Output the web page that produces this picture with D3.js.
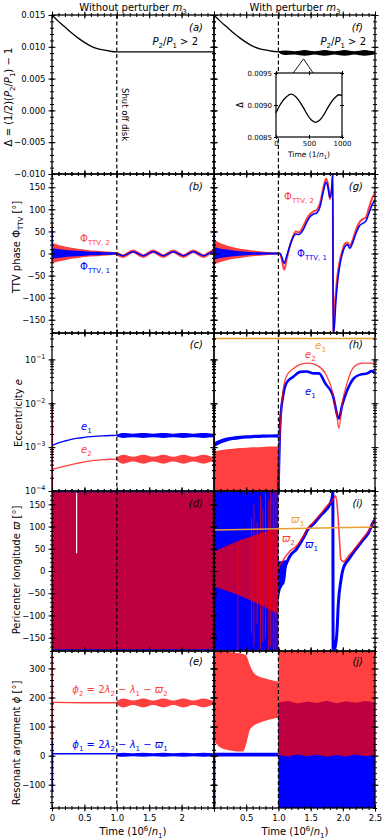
<!DOCTYPE html>
<html>
<head>
<meta charset="utf-8">
<script src="https://cdn.jsdelivr.net/npm/d3@7"></script>
<style>
  body { margin: 0; background: #fff; }
</style>
</head>
<body>
<script>
// ---------------- data ----------------
// time axis (units of 10^6 / n1)
var timeTicks = [0, 0.5, 1.0, 1.5, 2.0, 2.5];
var timeLabels = [["0", "0.5", "1.0", "1.5", "2", ""], ["", "0.5", "1.0", "1.5", "2.0", "2.5"]];
var shutOff = 1.0;

// y tick values per row
var deltaTicks = [-0.010, -0.005, 0, 0.005, 0.010, 0.015];
var phaseTicks = [-150, -100, -50, 0, 50, 100, 150];
var eccTicks = [1e-4, 1e-3, 1e-2, 1e-1];
var lonTicks = [-150, -100, -50, 0, 50, 100, 150];
var argTicks = [-100, 0, 100, 200, 300];

// (a),(f) Delta = (1/2)(P2/P1) - 1
var deltaT = [0, 0.1, 0.2, 0.3, 0.4, 0.5, 0.6, 0.7, 0.8, 0.9, 1.0, 2.5];
var deltaV = [0.0150, 0.0140, 0.0131, 0.0122, 0.0114, 0.0107, 0.0101, 0.0097, 0.0095, 0.0093, 0.0092, 0.0092];
// slow beat after disk shut off (shared time samples)
var slowT = [1.0, 1.1, 1.25, 1.41, 1.56, 1.72, 1.87, 2.03, 2.18, 2.34, 2.49, 2.5];
var deltaBandLo = [0.0091, 0.0087, 0.0088, 0.0086, 0.0088, 0.0086, 0.0088, 0.0086, 0.0088, 0.0086, 0.0088, 0.0088];
var deltaBandHi = [0.0093, 0.0094, 0.0093, 0.0095, 0.0093, 0.0095, 0.0093, 0.0095, 0.0093, 0.0095, 0.0093, 0.0093];
// inset: Delta over 1000/n1
var insetT = [0, 50, 100, 150, 230, 300, 360, 420, 480, 540, 600, 660, 720, 780, 840, 900, 950, 1000];
var insetV = [0.00888, 0.00898, 0.00906, 0.00912, 0.00917, 0.00913, 0.00905, 0.00895, 0.00884, 0.00876,
  0.00873, 0.00876, 0.00884, 0.00895, 0.00905, 0.00912, 0.00916, 0.00915];
var insetXTicks = [0, 500, 1000];
var insetYTicks = [0.0085, 0.0090, 0.0095];
var insetWin = [1.23, 1.39, 1.54];
var insetApex = 0.0081;

// (b),(g) TTV phase: envelope of fast oscillation while disk is on
var envT = [0.005, 0.05, 0.1, 0.2, 0.3, 0.4, 0.5, 0.6, 0.7, 0.8, 0.9, 1.0];
var ttv2HiL = [24, 22, 19, 16, 13, 11, 9, 7, 6, 5, 4, 3];
var ttv2LoL = [-22, -20, -18, -15, -12, -10, -8, -7, -6, -5, -4, -3];
var ttv1HiL = [12, 11, 10, 8, 7, 6, 5, 4, 4, 3, 3, 2];
var ttv1LoL = [-12, -11, -10, -8, -7, -6, -5, -4, -4, -3, -3, -2];
var ttv2HiR = [30, 27, 23, 18, 14, 11, 9, 7, 5, 4, 3, 3];
var ttv2LoR = [-24, -22, -19, -15, -12, -10, -8, -6, -5, -4, -3, -3];
var ttv1HiR = [15, 13, 11, 9, 7, 5, 4, 3, 3, 2, 2, 2];
var ttv1LoR = [-14, -12, -10, -8, -6, -5, -4, -3, -3, -2, -2, -2];
var ttvSpike2L = [-22, 72], ttvSpike1L = [-15, 55];
var ttvSpike2R = [-27, 70], ttvSpike1R = [-15, 50];
var ttv2SlowL = [0, -6, 5, -6, 5, -6, 5, -6, 5, -6, 5, 5];
var ttv1SlowL = [0, -5, 4, -5, 4, -5, 4, -5, 4, -5, 4, 4];
// (g) after shut off
var ttvT = [1.0, 1.025, 1.05, 1.09, 1.13, 1.18, 1.23, 1.27, 1.32, 1.39, 1.44, 1.49, 1.54, 1.59, 1.65, 1.70, 1.74, 1.77, 1.80,
  1.83, 1.845, 1.85, 1.86, 1.89, 1.92, 1.96, 2.0, 2.03, 2.07, 2.11, 2.15, 2.20, 2.26, 2.31, 2.36, 2.41, 2.46, 2.52];
var ttv2R = [0, 0, -12, -37, -12, 18, 40, 50, 48, 63, 78, 89, 95, 98, 116, 150, 169, 157, 123, 150,
  180, -180, -145, -92, -46, -12, 10, 22, 25, 18, 29, 52, 71, 78, 82, 105, 127, 138];
var ttv1R = [0, 0, -7, -22, -5, 18, 37, 44, 43, 55, 71, 83, 89, 91, 108, 142, 161, 150, 127, 150,
  180, -180, -180, -114, -62, -22, 3, 15, 20, 12, 23, 44, 63, 68, 74, 93, 112, 123];

// (c),(h) eccentricities
var eT = [0.005, 0.1, 0.2, 0.3, 0.4, 0.5, 0.6, 0.7, 0.8, 0.9, 1.0];
var e1L = [1.1e-3, 1.25e-3, 1.38e-3, 1.5e-3, 1.6e-3, 1.67e-3, 1.73e-3, 1.78e-3, 1.81e-3, 1.84e-3, 1.86e-3];
var e2L = [3.1e-4, 3.4e-4, 3.7e-4, 4.0e-4, 4.3e-4, 4.6e-4, 4.85e-4, 5.05e-4, 5.2e-4, 5.3e-4, 5.35e-4];
var e1BandLo = [1.75e-3, 1.62e-3, 1.68e-3, 1.62e-3, 1.68e-3, 1.62e-3, 1.68e-3, 1.62e-3, 1.68e-3, 1.62e-3, 1.68e-3, 1.68e-3];
var e1BandHi = [1.95e-3, 2.1e-3, 2.02e-3, 2.1e-3, 2.02e-3, 2.1e-3, 2.02e-3, 2.1e-3, 2.02e-3, 2.1e-3, 2.02e-3, 2.02e-3];
var e2BandLo = [4.9e-4, 4.2e-4, 4.7e-4, 4.2e-4, 4.7e-4, 4.2e-4, 4.7e-4, 4.2e-4, 4.7e-4, 4.2e-4, 4.7e-4, 4.7e-4];
var e2BandHi = [5.8e-4, 6.7e-4, 6.0e-4, 6.7e-4, 6.0e-4, 6.7e-4, 6.0e-4, 6.7e-4, 6.0e-4, 6.7e-4, 6.0e-4, 6.0e-4];
var eSpike = [1e-4, 1.05e-2];
var e1BandLoR = [1.0e-3, 1.2e-3, 1.35e-3, 1.45e-3, 1.52e-3, 1.57e-3, 1.6e-3, 1.62e-3, 1.64e-3, 1.65e-3, 1.66e-3];
var e1BandHiR = [1.3e-3, 1.5e-3, 1.65e-3, 1.75e-3, 1.82e-3, 1.87e-3, 1.9e-3, 1.92e-3, 1.94e-3, 1.95e-3, 1.96e-3];
var e2LoR = [1e-4, 1e-4, 1e-4, 1e-4, 1e-4, 1e-4, 1e-4, 1e-4, 1e-4, 1e-4, 1e-4];
var e2HiR = [8.0e-4, 8.5e-4, 8.9e-4, 9.2e-4, 9.5e-4, 9.7e-4, 9.9e-4, 1.0e-3, 1.02e-3, 1.03e-3, 1.04e-3];
var e1RT = [1.0, 1.03, 1.07, 1.13, 1.23, 1.34, 1.44, 1.55, 1.63, 1.73, 1.84, 1.94, 1.99, 2.07, 2.17, 2.27, 2.38, 2.45, 2.5];
var e1R = [1e-4, 4e-3, 0.014, 0.030, 0.040, 0.052, 0.053, 0.048, 0.048, 0.028, 0.016, 0.0045, 0.009, 0.020, 0.037, 0.045, 0.048, 0.054, 0.049];
var e2RT = [1.0, 1.02, 1.035, 1.08, 1.13, 1.23, 1.34, 1.47, 1.6, 1.73, 1.84, 1.91, 1.94, 1.99, 2.07, 2.17, 2.3, 2.43, 2.5];
var e2R = [1e-4, 1.5e-3, 4e-3, 0.023, 0.043, 0.061, 0.077, 0.082, 0.073, 0.048, 0.018, 0.0049, 0.0027, 0.010, 0.030, 0.067, 0.082, 0.082, 0.077];
var e3T = [0, 2.5];
var e3V = [0.30, 0.30];

// (d),(i) pericenter longitudes
var lonT = [0, 2.5];
var lonT1 = [0, 1.0];
var lonBlueLo = [-179, -179], lonBlueHi = [179, 179];
var lonRedLo = [-176, -176], lonRedHi = [177, 177];
var lonGapT = 0.38, lonGap = [40, 176];
var omRT = [0, 0.1, 0.2, 0.3, 0.4, 0.5, 0.6, 0.7, 0.8, 0.9, 1.0];
var omRHi = [43, 50, 57, 63, 69, 74, 79, 84, 88, 92, 95];
var omRLo = [-35, -40, -45, -50, -55, -62, -68, -75, -82, -90, -97];
var omSpikeT = [0.37, 0.58, 0.62, 0.67, 0.72, 0.76, 0.8, 0.85, 0.88, 0.92, 0.95, 0.98];
var omSpikeHi = [60, 120, 150, 110, 170, 140, 180, 160, 180, 175, 180, 180];
var omSpikeLo = [-180, -140, -170, -120, -180, -160, -150, -180, -170, -180, -175, -180];
var om1EarlyT = [1.0, 1.03, 1.06, 1.1, 1.13];
var om1EarlyLo = [-70, -45, -35, -25, 12];
var om1EarlyHi = [25, 22, 22, 24, 25];
var om1T = [1.0, 1.025, 1.08, 1.13, 1.18, 1.28, 1.39, 1.46, 1.54, 1.65, 1.75, 1.80, 1.84, 1.845, 1.85,
  1.88, 1.91, 1.93, 1.97, 2.01, 2.09, 2.16, 2.24, 2.32, 2.40, 2.47, 2.525];
var om1V = [-20, -10, 0, 19, 34, 49, 75, 94, 105, 124, 139, 150, 170, 180, -180,
  -172, -135, -75, -22, 7, 26, 41, 56, 71, 86, 109, 120];
var om2T = [1.0, 1.025, 1.05, 1.10, 1.18, 1.28, 1.39, 1.46, 1.54, 1.65, 1.75, 1.85, 1.89, 1.92, 1.95, 1.97,
  2.01, 2.09, 2.16, 2.24, 2.32, 2.40, 2.47, 2.525];
var om2V = [5, 15, 19, 30, 45, 56, 79, 97, 109, 127, 146, 161, 169, 135, 67, 26, 21, 34, 45, 60, 75, 90, 109, 120];
var om3V = [92, 99];

// (e),(j) resonant arguments
var phiT = [0.005, 0.5, 1.0];
var phi2L = [183, 182, 182];
var phi1L = [7, 7, 7];
var phi2BandLo = [176, 166, 174, 166, 174, 166, 174, 166, 174, 166, 174, 174];
var phi2BandHi = [188, 197, 190, 197, 190, 197, 190, 197, 190, 197, 190, 190];
var phi1BandLo = [-2, -4, -2, -4, -2, -4, -2, -4, -2, -4, -2, -2];
var phi1BandHi = [8, 10, 8, 10, 8, 10, 8, 10, 8, 10, 8, 8];
var phiSpike2L = [-104, 345], phiSpike1L = [-125, 50];
var phiJT = [0, 0.1, 0.2, 0.3, 0.4, 0.45, 0.5, 0.55, 0.6, 0.7, 0.8, 0.9, 1.0];
var phi2JHi = [360, 360, 358, 355, 352, 350, 345, 315, 290, 272, 265, 259, 255];
var phi2JLo = [50, 28, 20, 16, 14, 14, 40, 85, 100, 112, 120, 126, 130];
var phi1JLo = [-3, -3, -3], phi1JHi = [10, 10, 10];
var phiSpike1R = [-180, 5], phiSpike2R = [40, 360];
var lateT = [1.0, 1.15, 1.3, 1.45, 1.6, 1.75, 1.9, 2.05, 2.2, 2.35, 2.5];
var phi1LateLo = [-180, -180, -180, -180, -180, -180, -180, -180, -180, -180, -180];
var phi1LateHi = [183, 188, 179, 186, 181, 189, 180, 187, 182, 188, 183];
var phi2LateLo = [2, -3, 4, -2, 3, -4, 2, -3, 4, -2, 2];
var phi2LateHi = [360, 360, 360, 360, 360, 360, 360, 360, 360, 360, 360];

// ---------------- layout ----------------
var RED = "#ff0000", BLUE = "#0000ff", ORANGE = "#e8a035", A = 0.75;
var RED_TXT = "#ff4040";
var colRange = [[52, 214], [214, 375]];
var rowRange = [[15, 174], [174, 333], [333, 491], [491, 651], [651, 808]];

var svg = d3.select("body").append("svg")
  .attr("width", 387).attr("height", 840)
  .attr("font-family", "DejaVu Sans, sans-serif");

var xs = colRange.map(function (r) { return d3.scaleLinear().domain([0, 2.5]).range(r); });
var ys = [
  d3.scaleLinear().domain([-0.01, 0.015]).range([174, 15]),
  d3.scaleLinear().domain([-180, 180]).range([333, 174]),
  d3.scaleLog().domain([1e-4, 0.4]).range([491, 333]),
  d3.scaleLinear().domain([-180, 180]).range([651, 491]),
  d3.scaleLinear().domain([-180, 360]).range([808, 651])
];
var yMajor = [deltaTicks, phaseTicks, eccTicks, lonTicks, argTicks];
var yMinor = [ys[0].ticks(25), ys[1].ticks(36), ys[2].ticks(), ys[3].ticks(36), ys[4].ticks(27)];
var yFormat = [d3.format(".3f"), d3.format("d"), function () { return "10"; }, d3.format("d"), d3.format("d")];

function panel(r, c) {
  var id = "clip" + r + c;
  svg.append("clipPath").attr("id", id).append("rect")
    .attr("x", colRange[c][0]).attr("y", rowRange[r][0])
    .attr("width", colRange[c][1] - colRange[c][0])
    .attr("height", rowRange[r][1] - rowRange[r][0]);
  return { g: svg.append("g").attr("clip-path", "url(#" + id + ")"), x: xs[c], y: ys[r], r: r };
}

function idx(T) { return d3.range(T.length); }

function band(p, T, lo, hi, color, opacity, smooth) {
  p.g.append("path").datum(idx(T))
    .attr("d", d3.area()
      .x(function (i) { return p.x(T[i]); })
      .y0(function (i) { return p.y(lo[i]); })
      .y1(function (i) { return p.y(hi[i]); })
      .curve(smooth ? d3.curveMonotoneX : d3.curveLinear))
    .attr("fill", color).attr("fill-opacity", opacity);
}

function curve(p, T, V, color, width, opacity, smooth) {
  p.g.append("path").datum(idx(T))
    .attr("d", d3.line()
      .x(function (i) { return p.x(T[i]); })
      .y(function (i) { return p.y(V[i]); })
      .curve(smooth ? d3.curveMonotoneX : d3.curveLinear))
    .attr("fill", "none").attr("stroke", color).attr("stroke-width", width)
    .attr("stroke-opacity", opacity).attr("stroke-linejoin", "round");
}

function spike(p, t, range, color, width, opacity) {
  curve(p, [t, t], range, color, width, opacity, false);
}

// ---------------- panels ----------------
var pa = panel(0, 0);
curve(pa, deltaT, deltaV, "#000", 1.3, 1, true);

var pf = panel(0, 1);
curve(pf, deltaT.slice(0, 11), deltaV.slice(0, 11), "#000", 1.3, 1, true);
band(pf, slowT, deltaBandLo, deltaBandHi, "#000", 1, true);

var pb = panel(1, 0);
band(pb, envT, ttv2LoL, ttv2HiL, RED, A);
spike(pb, 0.006, ttvSpike2L, RED, 1.3, A);
band(pb, envT, ttv1LoL, ttv1HiL, BLUE, 1);
spike(pb, 0.006, ttvSpike1L, BLUE, 1.3, 1);
curve(pb, slowT, ttv2SlowL, RED, 3.5, A, true);
curve(pb, slowT, ttv1SlowL, BLUE, 1.5, 1, true);

var pg = panel(1, 1);
band(pg, envT, ttv2LoR, ttv2HiR, RED, A);
spike(pg, 0.006, ttvSpike2R, RED, 1.3, A);
band(pg, envT, ttv1LoR, ttv1HiR, BLUE, 1);
spike(pg, 0.006, ttvSpike1R, BLUE, 1.3, 1);
curve(pg, ttvT, ttv2R, RED, 2, A, true);
curve(pg, ttvT, ttv1R, BLUE, 1.6, 1, true);

var pc = panel(2, 0);
spike(pc, 0.006, eSpike, BLUE, 1.3, 1);
spike(pc, 0.006, eSpike, RED, 1.3, A);
curve(pc, eT, e1L, BLUE, 1.3, 1, true);
band(pc, slowT, e1BandLo, e1BandHi, BLUE, 1, true);
curve(pc, eT, e2L, RED, 1.3, A, true);
band(pc, slowT, e2BandLo, e2BandHi, RED, A, true);

var ph = panel(2, 1);
band(ph, eT, e1BandLoR, e1BandHiR, BLUE, 1, true);
band(ph, eT, e2LoR, e2HiR, RED, A, true);
spike(ph, 0.006, eSpike, BLUE, 1.3, 1);
spike(ph, 0.006, eSpike, RED, 1.3, A);
curve(ph, e1RT, e1R, BLUE, 2.6, 1, true);
curve(ph, e2RT, e2R, RED, 1.3, A, true);
curve(ph, e3T, e3V, ORANGE, 1.5, 1, false);

var pd = panel(3, 0);
band(pd, lonT, lonBlueLo, lonBlueHi, BLUE, 1);
band(pd, lonT, lonRedLo, lonRedHi, RED, A);
spike(pd, lonGapT, lonGap, "#fff", 1.2, 1);

var pi = panel(3, 1);
band(pi, lonT1, lonBlueLo, lonBlueHi, BLUE, 1);
band(pi, omRT, omRLo, omRHi, RED, A, true);
omSpikeT.forEach(function (t, i) {
  spike(pi, t, [omSpikeLo[i], omSpikeHi[i]], RED, 1, A);
});
band(pi, om1EarlyT, om1EarlyLo, om1EarlyHi, BLUE, 1, true);
curve(pi, om1T, om1V, BLUE, 3, 1, true);
curve(pi, om2T, om2V, RED, 1.6, A, true);
curve(pi, e3T, om3V, ORANGE, 1.5, 1, false);

var pe = panel(4, 0);
spike(pe, 0.006, phiSpike2L, RED, 1.5, A);
spike(pe, 0.006, phiSpike1L, BLUE, 1.5, 1);
curve(pe, phiT, phi2L, RED, 1.3, A, false);
band(pe, slowT, phi2BandLo, phi2BandHi, RED, A, true);
curve(pe, phiT, phi1L, BLUE, 1.5, 1, false);
band(pe, slowT, phi1BandLo, phi1BandHi, BLUE, 1, true);

var pj = panel(4, 1);
band(pj, phiJT, phi2JLo, phi2JHi, RED, A, true);
band(pj, phiT, phi1JLo, phi1JHi, BLUE, 1);
spike(pj, 0.006, phiSpike2R, RED, 1.5, A);
spike(pj, 0.006, phiSpike1R, BLUE, 2, 1);
band(pj, lateT, phi1LateLo, phi1LateHi, BLUE, 1);
band(pj, lateT, phi2LateLo, phi2LateHi, RED, A);

// dashed "shut off disk" line in every panel
[pa, pf, pb, pg, pc, ph, pd, pi, pe, pj].forEach(function (p) {
  p.g.append("line")
    .attr("x1", p.x(shutOff)).attr("x2", p.x(shutOff))
    .attr("y1", rowRange[p.r][0]).attr("y2", rowRange[p.r][1])
    .attr("stroke", "#000").attr("stroke-width", 1.2).attr("stroke-dasharray", "4,2.5");
});

// ---------------- frames and ticks ----------------
function sideTicks(axisGen, tx, ty, values, len, fmt, dim, fs, pad) {
  var a = svg.append("g").attr("transform", "translate(" + tx + "," + ty + ")")
    .call(axisGen.tickValues(values).tickSize(len / 2).tickPadding(pad == null ? 3 : pad)
      .tickFormat(fmt || function () { return ""; }));
  a.select(".domain").remove();
  a.attr("font-family", null).attr("font-size", fs || 8.5);
  a.selectAll(".tick line")
    .attr(dim + "1", function () { return -d3.select(this).attr(dim + "2"); })
    .attr("stroke-width", 1);
  return a;
}

for (var r = 0; r < 5; r++) {
  for (var c = 0; c < 2; c++) {
    var x = xs[c], y = ys[r];
    var x0 = colRange[c][0], x1 = colRange[c][1], y0 = rowRange[r][0], y1 = rowRange[r][1];
    svg.append("rect").attr("x", x0).attr("y", y0).attr("width", x1 - x0).attr("height", y1 - y0)
      .attr("fill", "none").attr("stroke", "#000").attr("stroke-width", 1.3);
    var xMinor = x.ticks(25);
    // minor
    sideTicks(d3.axisLeft(y), x0, 0, yMinor[r], 4, null, "x");
    sideTicks(d3.axisRight(y), x1, 0, yMinor[r], 4, null, "x");
    sideTicks(d3.axisTop(x), 0, y0, xMinor, 4, null, "y");
    sideTicks(d3.axisBottom(x), 0, y1, xMinor, 4, null, "y");
    // major
    var left = sideTicks(d3.axisLeft(y), x0, 0, yMajor[r], 7, c === 0 ? yFormat[r] : null, "x");
    if (c === 0 && r === 2) {
      left.selectAll(".tick text").each(function (d) {
        d3.select(this).append("tspan").attr("dy", -4).attr("font-size", 6.5)
          .text(d3.format("d")(Math.round(Math.log10(d))));
      });
    }
    sideTicks(d3.axisRight(y), x1, 0, yMajor[r], 7, null, "x");
    sideTicks(d3.axisTop(x), 0, y0, timeTicks, 7, null, "y");
    var labs = timeLabels[c];
    sideTicks(d3.axisBottom(x), 0, y1, timeTicks, 7,
      r === 4 ? function (d, i) { return labs[i]; } : null, "y", 8.5, 3.5);
  }
}

// ---------------- inset in (f) ----------------
var xi = d3.scaleLinear().domain([0, 1000]).range([276, 342]);
var yi = d3.scaleLinear().domain([0.0085, 0.0095]).range([137, 73]);
svg.append("path")
  .attr("d", d3.line()([[xs[1](insetWin[0]), yi.range()[1]], [xs[1](insetWin[1]), ys[0](insetApex)],
    [xs[1](insetWin[2]), yi.range()[1]]]))
  .attr("fill", "none").attr("stroke", "#000").attr("stroke-width", 0.9);
svg.append("rect").attr("x", 276).attr("y", 73).attr("width", 66).attr("height", 64)
  .attr("fill", "#fff").attr("stroke", "#000").attr("stroke-width", 1.2);
var pInset = { g: svg.append("g"), x: xi, y: yi };
curve(pInset, insetT, insetV, "#000", 1.3, 1, true);
sideTicks(d3.axisLeft(yi), 276, 0, insetYTicks, 4, d3.format(".4f"), "x", 7, 2);
sideTicks(d3.axisRight(yi), 342, 0, insetYTicks, 4, null, "x", 7);
sideTicks(d3.axisTop(xi), 0, 73, insetXTicks, 4, null, "y", 7);
sideTicks(d3.axisBottom(xi), 0, 137, insetXTicks, 4, d3.format("d"), "y", 7, 2.5);

// ---------------- text ----------------
function label(x, y, parts, o) {
  o = o || {};
  var fs = o.size || 10;
  var t = svg.append("text").attr("x", x).attr("y", y).attr("font-size", fs)
    .attr("fill", o.color || "#000").attr("text-anchor", o.anchor || "start");
  if (o.rotate) t.attr("transform", "rotate(" + o.rotate + "," + x + "," + y + ")");
  if (o.italic) t.attr("font-style", "italic");
  var base = 0;
  parts.forEach(function (p) {
    var kind = p[1] || "";
    var off = kind === "sub" ? fs * 0.28 : kind === "sup" ? -fs * 0.4 : 0;
    var s = t.append("tspan").attr("dy", off - base).text(p[0]);
    if (kind === "sub" || kind === "sup") s.attr("font-size", fs * 0.7);
    if (kind === "i") s.attr("font-style", "italic");
    base = off;
  });
  return t;
}

label(133, 11, [["Without perturber "], ["m", "i"], ["3", "sub"]], { anchor: "middle" });
label(295, 11, [["With perturber "], ["m", "i"], ["3", "sub"]], { anchor: "middle" });

label(12, 97, [["Δ = (1/2)("], ["P", "i"], ["2", "sub"], ["/"], ["P", "i"], ["1", "sub"], [") − 1"]],
  { anchor: "middle", rotate: -90 });
label(20, 247, [["TTV phase Φ"], ["TTV", "sub"], [" [°]"]], { anchor: "middle", rotate: -90 });
label(22, 413, [["Eccentricity "], ["e", "i"]], { anchor: "middle", rotate: -90 });
label(20, 570, [["Pericenter longitude "], ["ϖ", "i"], [" [°]"]], { anchor: "middle", rotate: -90 });
label(20, 743, [["Resonant argument "], ["ϕ", "i"], [" [°]"]], { anchor: "middle", rotate: -90 });

[133, 295].forEach(function (cx) {
  label(cx, 835, [["Time (10"], ["6", "sup"], ["/"], ["n", "i"], ["1", "sub"], [")"]], { anchor: "middle" });
});

var panelTags = [["(a)", 203, 31], ["(f)", 363, 31], ["(b)", 203, 190], ["(g)", 363, 190],
  ["(c)", 203, 348], ["(h)", 363, 348], ["(d)", 203, 507], ["(i)", 363, 507],
  ["(e)", 203, 665], ["(j)", 363, 665]];
panelTags.forEach(function (d) {
  label(d[1], d[2], [[d[0]]], { anchor: "end", italic: true });
});

var ratioText = [["P", "i"], ["2", "sub"], ["/"], ["P", "i"], ["1", "sub"], [" > 2"]];
label(198, 45, ratioText, { anchor: "end" });
label(366, 45, ratioText, { anchor: "end" });
label(122, 88, [["Shut off disk"]], { rotate: 90, size: 8.5 });

// inset labels
label(309, 157, [["Time (1/"], ["n", "i"], ["1", "sub"], [")"]], { anchor: "middle", size: 7.5 });
label(243, 105, [["Δ"]], { anchor: "middle", rotate: -90, size: 8 });

// curve labels
label(80, 242, [["Φ"], ["TTV, 2", "sub"]], { color: RED_TXT });
label(80, 270, [["Φ"], ["TTV, 1", "sub"]], { color: BLUE });
label(284, 200, [["Φ"], ["TTV, 2", "sub"]], { color: RED_TXT });
label(297, 257, [["Φ"], ["TTV, 1", "sub"]], { color: BLUE });

label(81, 430, [["e", "i"], ["1", "sub"]], { color: BLUE });
label(81, 453, [["e", "i"], ["2", "sub"]], { color: RED_TXT });
label(315, 349, [["e", "i"], ["3", "sub"]], { color: ORANGE });
label(305, 358, [["e", "i"], ["2", "sub"]], { color: RED_TXT });
label(305, 395, [["e", "i"], ["1", "sub"]], { color: BLUE });

label(291, 523, [["ϖ", "i"], ["3", "sub"]], { color: ORANGE });
label(282, 542, [["ϖ", "i"], ["2", "sub"]], { color: RED_TXT });
label(305, 548, [["ϖ", "i"], ["1", "sub"]], { color: BLUE });

label(120, 693, [["ϕ", "i"], ["2", "sub"], [" = 2"], ["λ", "i"], ["2", "sub"], [" − "], ["λ", "i"], ["1", "sub"],
  [" − "], ["ϖ", "i"], ["2", "sub"]], { anchor: "middle", color: RED_TXT });
label(120, 748, [["ϕ", "i"], ["1", "sub"], [" = 2"], ["λ", "i"], ["2", "sub"], [" − "], ["λ", "i"], ["1", "sub"],
  [" − "], ["ϖ", "i"], ["1", "sub"]], { anchor: "middle", color: BLUE });
</script>
</body>
</html>
